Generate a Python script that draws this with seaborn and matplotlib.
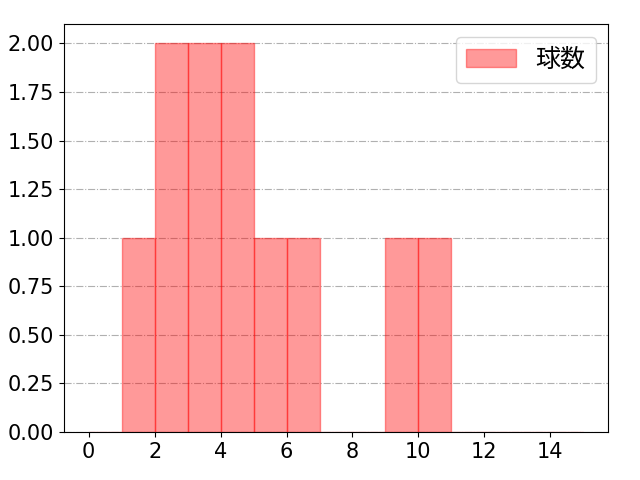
import matplotlib
matplotlib.use("Agg")
import matplotlib.pyplot as plt
import seaborn as sns
import numpy as np

# values (one per observation) giving counts per unit bin
values = [1, 2, 2, 3, 3, 4, 4, 5, 6, 9, 10]
bin_edges = list(range(0, 16))
label = "球数"

plt.rcParams['font.family'] = ['DejaVu Sans', 'Noto Sans CJK JP']

fig, ax = plt.subplots(figsize=(6.4, 4.8), dpi=100)
sns.histplot(x=values, bins=bin_edges, color=(1, 0, 0, 0.4), edgecolor=(1, 0, 0, 0.4),
             alpha=0.4, linewidth=1, label=label, ax=ax)
for p in ax.patches:
    p.set_edgecolor((1, 0, 0, 0.4))
    p.set_facecolor((1, 0, 0, 0.4))
    p.set_alpha(None)
ax.set_xlim(-0.75, 15.75)
ax.set_ylim(0, 2.1)
ax.set_yticks(np.arange(0, 2.01, 0.25))
ax.yaxis.set_major_formatter(matplotlib.ticker.FormatStrFormatter('%.2f'))
ax.set_xticks(range(0, 15, 2))
ax.grid(axis='y', linestyle='-.', color='#b0b0b0', linewidth=0.8)
ax.set_axisbelow(True)
ax.set_xlabel('')
ax.set_ylabel('')
ax.tick_params(labelsize=15)
ax.legend(loc='upper right', prop={'family': ['Noto Sans CJK JP', 'DejaVu Sans'], 'size': 18})
fig.subplots_adjust(left=64/640, right=608/640, top=1-24/480, bottom=1-432/480)
fig.savefig('out.png', dpi=100)
